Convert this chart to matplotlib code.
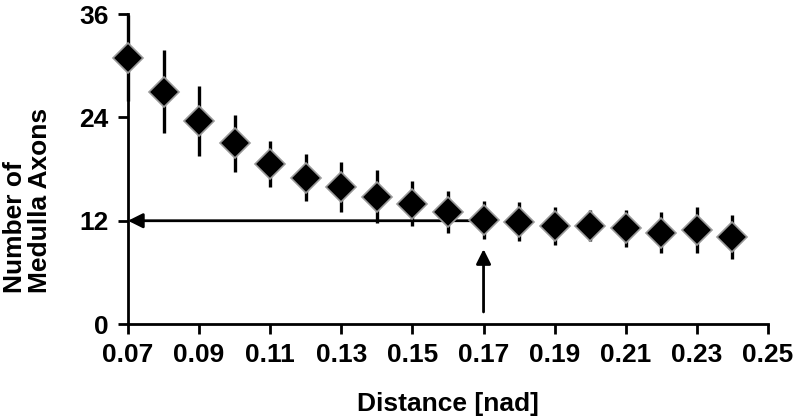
import matplotlib
matplotlib.use("Agg")
from matplotlib import pyplot as plt

# data
distance = [0.07, 0.08, 0.09, 0.10, 0.11, 0.12, 0.13, 0.14, 0.15,
            0.16, 0.17, 0.18, 0.19, 0.20, 0.21, 0.22, 0.23, 0.24]
axons = [30.9, 27.0, 23.6, 21.0, 18.6, 17.0, 15.9, 14.8, 14.0,
         13.0, 12.1, 11.9, 11.4, 11.4, 11.1, 10.6, 10.9, 10.1]
axons_err = [5.0, 4.8, 4.1, 3.3, 2.7, 2.7, 2.9, 3.1, 2.6,
             2.4, 2.2, 2.3, 2.2, 1.8, 2.1, 2.4, 2.7, 2.6]

x_ticks = [0.07, 0.09, 0.11, 0.13, 0.15, 0.17, 0.19, 0.21, 0.23, 0.25]
y_ticks = [0, 12, 24, 36]

threshold_x = 0.17
threshold_y = 12

plt.rcParams['font.family'] = ['Liberation Sans', 'DejaVu Sans']
plt.rcParams['font.weight'] = 'bold'

fig = plt.figure(figsize=(7.97, 4.17), dpi=100)
ax = fig.add_axes([0.1606, 0.223, 0.803, 0.743])

# error bars, then diamonds on top
eb = ax.errorbar(distance, axons, yerr=axons_err, fmt='none', ecolor='black',
                 elinewidth=2.4, capsize=0, zorder=2)
for coll in eb.lines[2]:
    coll.set_clip_on(False)
ax.plot(distance, axons, linestyle='none', marker='D', markersize=15,
        markerfacecolor='black', markeredgecolor='#9a9a9a', markeredgewidth=1.2,
        zorder=3, clip_on=False)

# arrows
ax.annotate('', xy=(x_ticks[0], threshold_y), xytext=(threshold_x, threshold_y),
            arrowprops=dict(arrowstyle='-|>', color='black', lw=2, mutation_scale=22,
                            shrinkA=0, shrinkB=0), zorder=1)
ax.annotate('', xy=(threshold_x, 8.7), xytext=(threshold_x, 1.4),
            arrowprops=dict(arrowstyle='-|>', color='black', lw=2, mutation_scale=22,
                            shrinkA=0, shrinkB=0), zorder=1)

ax.set_xlim(0.07, 0.25)
ax.set_ylim(0, 36)
ax.set_xticks(x_ticks)
ax.set_xticklabels(['%.2f' % t for t in x_ticks])
ax.set_yticks(y_ticks)

for side in ('top', 'right'):
    ax.spines[side].set_visible(False)
for side in ('left', 'bottom'):
    ax.spines[side].set_linewidth(2)

ax.tick_params(direction='out', length=7, width=2, labelsize=19, pad=7)

ax.set_xlabel('Distance [nad]', fontsize=19, fontweight='bold', labelpad=18)
ax.set_ylabel('Number of\nMedulla Axons', fontsize=19, fontweight='bold',
              linespacing=1.05, multialignment='left')
ax.yaxis.set_label_coords(-0.119, 0.4)

fig.savefig('out.png', dpi=100)
